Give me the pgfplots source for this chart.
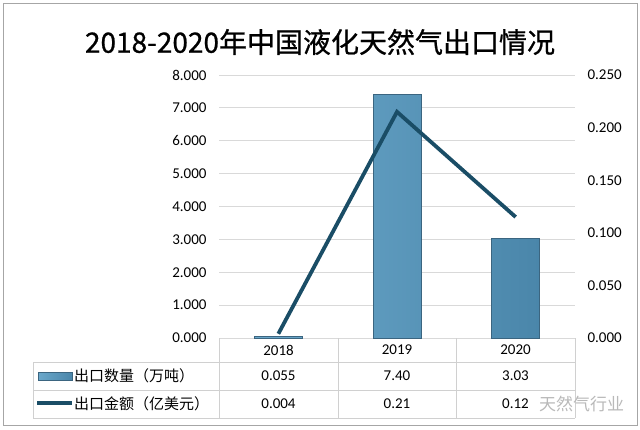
\documentclass[border=0pt]{standalone}
\usepackage{pgfplots}
\pgfplotsset{compat=1.18}
\usepackage{fontspec}
\setmainfont{Carlito}
\newfontfamily\cjk{Noto Sans CJK SC}
\newfontfamily\cjkt[FakeBold=0.8]{Noto Sans CJK SC}
\definecolor{barL}{HTML}{6BA8CB}
\definecolor{barR}{HTML}{4A86AA}
\definecolor{barEdge}{HTML}{3B6580}
\definecolor{lineC}{HTML}{1A4D66}
\definecolor{gridC}{HTML}{D9D9D9}
\definecolor{tabC}{HTML}{D0D0D0}
\begin{document}
\begin{tikzpicture}
\path[use as bounding box] (0,0) rectangle (640pt,429pt);
\begin{scope}[x=1pt,y=1pt]
\draw[gray!70, line width=1pt] (3,4) rectangle (637,425);
\node[font=\cjkt\fontsize{28}{32}\selectfont] at (320,387) {2018-2020年中国液化天然气出口情况};
\end{scope}

\begin{axis}[
  at={(219pt,91pt)}, anchor=south west, scale only axis,
  width=356pt, height=263pt,
  xmin=-0.5, xmax=2.5, ymin=0, ymax=8,
  ytick={0,1,2,3,4,5,6,7,8}, xtick=\empty,
  axis line style={draw=none}, major tick length=0pt,
  ymajorgrids, grid style={gridC, line width=1pt},
  /pgf/number format/assume math mode=true,
  yticklabel style={font=\fontsize{15}{18}\selectfont, xshift=-9pt,
    /pgf/number format/.cd, fixed, fixed zerofill, precision=3},
]
\addplot[ybar, bar width=48pt, draw=barEdge, line width=0.8pt, left color=barL, right color=barR]
  coordinates {(0,0.055) (1,7.40) (2,3.03)};
\end{axis}

\begin{axis}[
  at={(219pt,91pt)}, anchor=south west, scale only axis,
  width=356pt, height=263pt,
  xmin=-0.5, xmax=2.5, ymin=0, ymax=0.25,
  ytick={0,0.05,0.1,0.15,0.2,0.25}, xtick=\empty,
  yticklabel pos=right,
  axis line style={draw=none}, major tick length=0pt,
  /pgf/number format/assume math mode=true,
  yticklabel style={font=\fontsize{15}{18}\selectfont, xshift=9pt,
    /pgf/number format/.cd, fixed, fixed zerofill, precision=3},
]
\addplot[lineC, line width=3.8pt, line join=miter, mark=none]
  coordinates {(0,0.004) (1,0.215) (2,0.115)};
\end{axis}

\begin{scope}[x=1pt,y=1pt]
\draw[tabC, line width=0.8pt] (219,91) -- (219,11);
\draw[tabC, line width=0.8pt] (338,91) -- (338,11);
\draw[tabC, line width=0.8pt] (456,91) -- (456,11);
\draw[tabC, line width=0.8pt] (575,91) -- (575,11);
\draw[tabC, line width=0.8pt] (33,67) -- (575,67);
\draw[tabC, line width=0.8pt] (33,39) -- (575,39);
\draw[tabC, line width=0.8pt] (33,11) -- (575,11);
\draw[tabC, line width=0.8pt] (33,67) -- (33,11);
\begin{scope}[every node/.style={font=\fontsize{15}{18}\selectfont}]
\node at (278.5,79) {2018};
\node at (397,79) {2019};
\node at (515.5,79) {2020};
\node at (278.5,53) {0.055};
\node at (397,53) {7.40};
\node at (515.5,53) {3.03};
\node at (278.5,25) {0.004};
\node at (397,25) {0.21};
\node at (515.5,25) {0.12};
\end{scope}
\draw[barEdge, line width=0.6pt, left color=barL, right color=barR] (38,49) rectangle (72,57);
\draw[lineC, line width=3.6pt] (37,26) -- (72,26);
\node[anchor=west, inner sep=0pt, font=\cjk\fontsize{15}{18}\selectfont] at (74,53) {出口数量（万吨）};
\node[anchor=west, inner sep=0pt, font=\cjk\fontsize{15}{18}\selectfont] at (74,25) {出口金额（亿美元）};
\node[anchor=west, inner sep=0pt, text=gray!55, font=\cjk\fontsize{17}{20}\selectfont] at (539,25) {天然气行业};
\end{scope}
\end{tikzpicture}
\end{document}
